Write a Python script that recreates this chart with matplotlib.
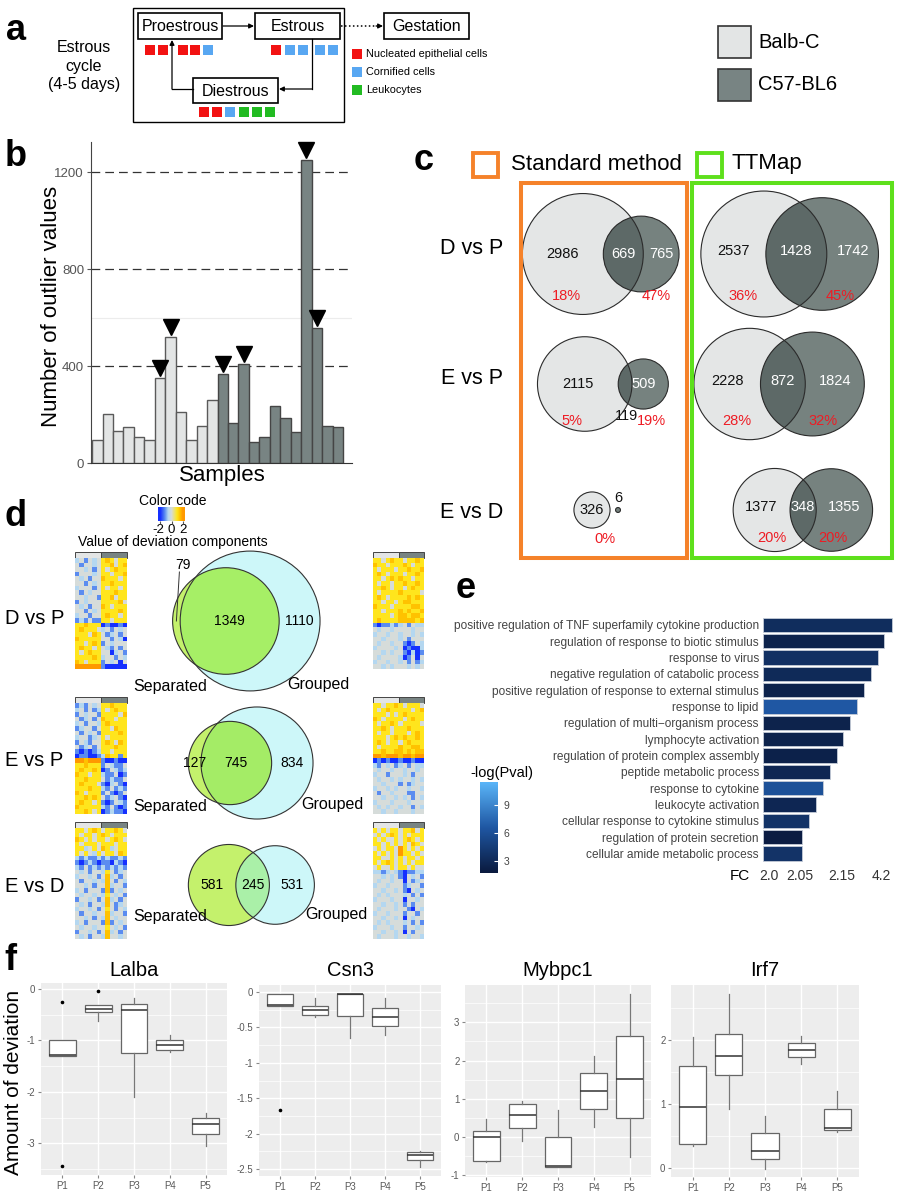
import numpy as np
import matplotlib
matplotlib.use('Agg')
import matplotlib.pyplot as plt
from matplotlib.patches import Rectangle, Circle
from matplotlib.colors import LinearSegmentedColormap, Normalize
from matplotlib.ticker import MultipleLocator

plt.rcParams['font.family'] = ['Liberation Sans', 'DejaVu Sans']
plt.rcParams['axes.unicode_minus'] = False

# ======================= DATA =======================
# panel a
STAGES = ['Proestrous', 'Estrous', 'Diestrous', 'Gestation']
PRO_CELLS = ['N', 'N', 'N', 'N', 'C']
EST_CELLS = ['N', 'C', 'C', 'C', 'C']
DI_CELLS = ['N', 'N', 'C', 'L', 'L', 'L']
CELL_KEYS = ['N', 'C', 'L']
CELL_NAMES = ['Nucleated epithelial cells', 'Cornified cells', 'Leukocytes']
STRAINS = ['Balb-C', 'C57-BL6']

# panel b
B_VALUES = [93, 203, 132, 148, 107, 93, 352, 520, 210, 93, 154, 261,
            368, 166, 410, 87, 107, 234, 186, 129, 1251, 558, 151, 150]
B_STRAIN = [0, 0, 0, 0, 0, 0, 0, 0, 0, 0, 0, 0,
            1, 1, 1, 1, 1, 1, 1, 1, 1, 1, 1, 1]
B_MARKED = [6, 7, 12, 14, 20, 21]
B_YTICKS = [0, 400, 800, 1200]

# panel c
C_ROWS = ['D vs P', 'E vs P', 'E vs D']
STD_LEFT = [2986, 2115, 326]
STD_INTER = [669, 119, 0]
STD_RIGHT = [765, 509, 6]
STD_PCT = [['18%', '47%'], ['5%', '19%'], ['0%']]
TT_LEFT = [2537, 2228, 1377]
TT_INTER = [1428, 872, 348]
TT_RIGHT = [1742, 1824, 1355]
TT_PCT = [['36%', '45%'], ['28%', '32%'], ['20%', '20%']]

# panel d
D_ROWS = ['D vs P', 'E vs P', 'E vs D']
D_SEP_ONLY = [79, 127, 581]
D_INTER = [1349, 745, 245]
D_GRP_ONLY = [1110, 834, 531]

HM_DP_SEP = ["c.b.c.yYy.yy", ".b..c.yyY.yY", "..c.b.y.yYyy", "b...c.yy.yyY",
             ".c.b..Yyyy.y", "..b.c.yyYyyy", "c...b.y.yy.y", ".b.c..yyyYyy",
             "..c..byyY.yy", "b.c...yyyyY.", ".c.b..Yy.yyy", "..b.c.yyyyYy",
             "c..b..yYyy.y", "bcb.bbyy.yyy", "yyYyyyBbBBbB", "yYyyy.c.b.c.",
             "yyy.Yy.bc.b.", "Yyyyyy..b.cB", "yy.yYyb.c...", "yYyy.y.cb.b.",
             "y.yYyy..Bc.b", "yyyyYyc..b.c", "Yy.yyyb.c.B.", "OOOOOObBBBBB"]
HM_DP_GRP = ["yy.yYyy.yyYy", "Yyy.yyyYy.yy", "y.yyy.yyYyyY", "yYy.yyy.yyYy",
             "yy.yYyYyy.yy", "y.yy.yyYyyYy", "yyYy.yy.yYyy", "y.yyyyYyyyy.",
             "yYy.yyyyYyYy", "yy.yy.yYYyyy", "Yyyy.yyyyYYy", "yy.yyyYyYyyY",
             "yyyy.yYYyYYy", "yYyyyyYYYYyY", "bBbbcbc.b.cc", ".c..c....c..",
             "c..c..c..c.c", "..c...c.b...", ".c..c..bBb.c", "c....c.BbBBc",
             "..c.c..bBcBb", ".c....cBb.B.", "c..c..c.b.bc", "..c.c...c.c."]
HM_EP_SEP = ["bcb.c.yyYyyy", "c.b.bcy.yYyy", "b.c..byyyy.Y", ".bc.b.Yyy.yy",
             "c.b..cyYyyyy", "bc..b.yy.Yyy", ".b.c.byyyyYy", "c..bc.y.yyyy",
             "b.cb..yYy.Yy", ".bc.b.yyyYyy", "bBbBbcyy.yyy", "BbbBBbcYyyby",
             "OOYOOObBBbBB", "yyYyyyb.cbb.", "yYyyYyBb.cbc", "Yyy.yycbb.Bb",
             "yyYyyy.bcbb.", "yYyyy.bBc.bB", "yyyYyycb.bcb", "Yy.yyyb.bBb.",
             "yyYyYy.bc.bB", "yYyy.ybBb.cb", "Yyyyyycb.bBb", "yyYy.yBbcbbB"]
HM_EP_GRP = ["yy.yyYy.yyy.", "y.yYyyyyy.yY", "yyy.y.yYyyyy", "Yy.yyyy.yYyy",
             "y.yyYy.yyyy.", "yyYy.yyyYyyy", "y.yy.yyy.yYy", "yyy.yYyYyyYy",
             "yYy.yy.yYyyy", "y.yyyyYyyYYy", "yyYyyYYyYyYY", "OOYOOOYOOYOO",
             "BbBbBBbBBbBB", "cb.c.bc.b.cc", ".c..c..c..c.", "c..b...c.b..",
             ".c..c.c..c.c", "..c...b.bc..", "c..c.c..c..c", ".b..c...bb..",
             "..c..c.c.b.c", "c...c...c...", ".c.c..c..b.c", "..c..c...c.."]
HM_ED_SEP = ["yy.yYy.yyYy.", "y.yy.yYy.yyy", "Yy.y.yy.yYy.", "y.yyy.yyy.yy",
             "yyc.y.Yyc.yy", "y.y.cy.yy.Yy", "cbcbbcbcbbcb", "bBbcbBbbBcbB",
             "cb.bcbcbcbcb", ".c.b..cy.bc.", "c..c.b.Yc.b.", ".b..c.cY.b.c",
             "..c.b..Yc..b", "c.b...bYb.c.", ".c..c.cy.c.b", "b..c.b.Yc.b.",
             ".c.b..cY.bc.", "c..c.b.y.b.c", ".b..c..Yc..b", "..c.b.cY.c..",
             "c.b...bYb.c.", ".c..c..y.c.b", "b..c.b.Yc.b.", ".c.b..cY..c."]
HM_ED_GRP = ["y.y.yy.yyY.y", ".y.yYy.y.yyy", "y.y..y.yYy.y", "yy.y.y.y.Yy.",
             ".y.yy.Oy.y.y", "y.y.y.Oyy.y.", "yy..y.y.yy.y", "y.yYy.y.y.yy",
             ".y..y.yy.y..", "ccbc.cbBbbcc", "..c.c.bB.c.b", ".c..c..B.bc.",
             "c..c...bc..b", "..c..c.bB.c.", ".c.c...c.b.b", "c...c..B..c.",
             "..c..c.b.b..", ".c...c..bB.c", "c..c...b..b.", "..c..c.B.c..",
             ".c.c...c.b.b", "c...c..b..c.", "..c..c.B.b..", ".c...c..c..c"]
HM_CODE_VALUE = {'B': -2.0, 'b': -1.2, 'c': -0.6, '.': 0.0, 'y': 1.0, 'Y': 1.5, 'O': 2.0}
CC_TICKS = [-2, 0, 2]

# panel e
E_TERMS = ['positive regulation of TNF superfamily cytokine production',
           'regulation of response to biotic stimulus',
           'response to virus',
           'negative regulation of catabolic process',
           'positive regulation of response to external stimulus',
           'response to lipid',
           'regulation of multi\u2212organism process',
           'lymphocyte activation',
           'regulation of protein complex assembly',
           'peptide metabolic process',
           'response to cytokine',
           'leukocyte activation',
           'cellular response to cytokine stimulus',
           'regulation of protein secretion',
           'cellular amide metabolic process']
E_FC_RANK = [18.4, 17.3, 16.4, 15.4, 14.4, 13.4, 12.4, 11.4, 10.6, 9.6, 8.6, 7.6, 6.6, 5.6, 5.6]
E_NLOGP = [3.2, 2.4, 3.5, 3.0, 2.4, 6.6, 2.4, 2.4, 2.3, 2.7, 6.1, 2.7, 3.7, 1.9, 3.7]
E_FC_TICK_POS = [0.86, 5.3, 11.3, 16.9]
E_FC_TICK_LAB = ['2.0', '2.05', '2.15', '4.2']
E_CB_TICKS = [3, 6, 9]
E_CB_RANGE = (1.7, 11.5)

# panel f
F_GENES = ['Lalba', 'Csn3', 'Mybpc1', 'Irf7']
F_GROUPS = ['P1', 'P2', 'P3', 'P4', 'P5']
F_MED = [[-1.29, -0.38, -0.40, -1.08, -2.62],
         [-0.18, -0.26, -0.03, -0.35, -2.31],
         [-0.01, 0.57, -0.75, 1.20, 1.51],
         [0.95, 1.75, 0.27, 1.84, 0.63]]
F_Q1 = [[-1.31, -0.45, -1.25, -1.18, -2.83],
        [-0.19, -0.33, -0.34, -0.48, -2.38],
        [-0.62, 0.23, -0.79, 0.72, 0.50],
        [0.37, 1.45, 0.14, 1.73, 0.59]]
F_Q3 = [[-1.00, -0.30, -0.29, -0.99, -2.51],
        [-0.03, -0.19, -0.03, -0.22, -2.26],
        [0.15, 0.86, 0.00, 1.67, 2.64],
        [1.60, 2.09, 0.54, 1.95, 0.92]]
F_WLO = [[-1.31, -0.62, -2.10, -1.23, -3.05],
         [-0.19, -0.35, -0.65, -0.61, -2.47],
         [-0.65, -0.10, -0.79, 0.26, -0.52],
         [0.35, 0.93, -0.01, 1.62, 0.56]]
F_WHI = [[-1.00, -0.30, -0.17, -0.90, -2.42],
         [-0.03, -0.08, -0.03, -0.08, -2.24],
         [0.48, 0.94, 0.71, 2.12, 3.74],
         [2.05, 2.72, 0.81, 2.06, 1.20]]
F_OUT = [[[-0.25, -3.45], [-0.04], [], [], []],
         [[-1.67], [], [], [], []],
         [[], [], [], [], []],
         [[], [], [], [], []]]
F_YTICKS = [[0, -1, -2, -3], [0, -0.5, -1, -1.5, -2, -2.5], [-1, 0, 1, 2, 3], [0, 1, 2]]
F_YTICKLABELS = [['0', '-1', '-2', '-3'], ['0', '-0.5', '-1', '-1.5', '-2', '-2.5'],
                 ['-1', '0', '1', '2', '3'], ['0', '1', '2']]
F_YLIM = [(-3.62, 0.12), (-2.60, 0.10), (-1.05, 3.98), (-0.14, 2.86)]

# ======================= STYLE / LAYOUT =======================
CELL_COLORS = {'N': '#f21212', 'C': '#58a7f2', 'L': '#22bb22'}
STRAIN_FILL = ['#e3e5e5', '#788483']
STRAIN_EDGE = ['#5a5a5a', '#454545']
VC_LIGHT, VC_DARK, VC_OVER = '#e4e6e6', '#76827f', '#5d6967'
RED = '#ee1c24'
ORANGE, GREEN = '#f5822a', '#5ee01c'
HM_CMAP = LinearSegmentedColormap.from_list('hm', [
    (0.0, '#1530ff'), (0.2, '#5b8cf0'), (0.35, '#b5d8f0'), (0.5, '#d6dcdc'),
    (0.75, '#ffe61e'), (0.875, '#ffc400'), (1.0, '#ff9900')])
E_CMAP = LinearSegmentedColormap.from_list('e', ['#0a1a3e', '#1f57a3', '#5ab5f8'])

W, H = 899, 1199
fig = plt.figure(figsize=(W / 100, H / 100), dpi=100)
fig.patch.set_facecolor('white')


def px_axes(x0, y0, x1, y1):
    return fig.add_axes([x0 / W, 1 - y1 / H, (x1 - x0) / W, (y1 - y0) / H])


ov = px_axes(0, 0, W, H)
ov.set_xlim(0, W)
ov.set_ylim(H, 0)
ov.axis('off')


def T(x, y, s, size, **kw):
    kw.setdefault('ha', 'center')
    kw.setdefault('va', 'center')
    return ov.text(x, y, s, fontsize=size, **kw)


def panel_letter(x, y, s):
    T(x, y, s, 26, fontweight='bold')


# ======================= PANEL a =======================
panel_letter(16, 31, 'a')
T(84, 66, 'Estrous\ncycle\n(4-5 days)', 11.5, linespacing=1.25)
ov.add_patch(Rectangle((133, 8), 211, 114, fc='none', ec='k', lw=1.0))
STAGE_BOX = {'Proestrous': (138, 13, 84, 26), 'Estrous': (255, 13, 85, 26),
             'Gestation': (384, 13, 85, 26), 'Diestrous': (193, 78, 85, 25)}
for name in STAGES:
    x, y, w, h = STAGE_BOX[name]
    ov.add_patch(Rectangle((x, y), w, h, fc='white', ec='k', lw=1.2))
    T(x + w / 2, y + h / 2 + 0.5, name, 11.5)

ap = dict(arrowstyle='-|>', color='k', lw=0.9, mutation_scale=7, shrinkA=0, shrinkB=0)
ov.annotate('', xy=(254, 26), xytext=(223, 26), arrowprops=ap)
ov.plot([341, 377], [26, 26], color='k', lw=1.1, ls=(0, (1, 1.6)))
ov.annotate('', xy=(383, 26), xytext=(376, 26), arrowprops=ap)
ov.plot([312, 312], [39, 89], color='k', lw=0.9)
ov.annotate('', xy=(279, 89), xytext=(312, 89), arrowprops=ap)
ov.plot([193, 172], [89, 89], color='k', lw=0.9)
ov.annotate('', xy=(172, 40), xytext=(172, 89), arrowprops=ap)


def cell_row(cells, x0, y0, step, gap_after, gap):
    for i, c in enumerate(cells):
        x = x0 + i * step + (gap if i > gap_after else 0)
        ov.add_patch(Rectangle((x, y0), 10, 10, fc=CELL_COLORS[c], ec='none'))


cell_row(PRO_CELLS, 145, 45, 12.8, 1, 7)
cell_row(EST_CELLS, 271, 45, 13.5, 2, 3)
cell_row(DI_CELLS, 199, 107, 13.2, 99, 0)
for i, (c, nm) in enumerate(zip(CELL_KEYS, CELL_NAMES)):
    ov.add_patch(Rectangle((352, 49 + 18 * i), 10, 10, fc=CELL_COLORS[c], ec='none'))
    T(366, 54 + 18 * i, nm, 7.8, ha='left')

for i, s in enumerate(STRAINS):
    y = 26 + 43 * i
    ov.add_patch(Rectangle((718, y), 33, 32, fc=STRAIN_FILL[i], ec='#333333', lw=1.2))
    T(758, y + 16, s, 14.5, ha='left')

# ======================= PANEL b =======================
panel_letter(16, 157, 'b')
axb = px_axes(91, 142, 352, 463)
xb = np.arange(len(B_VALUES))
axb.bar(xb, B_VALUES, width=1.0, color=[STRAIN_FILL[s] for s in B_STRAIN],
        edgecolor=[STRAIN_EDGE[s] for s in B_STRAIN], linewidth=1.0, zorder=3)
for v in B_YTICKS[1:]:
    axb.axhline(v, color='#333333', lw=0.9, ls=(0, (7, 4)), zorder=1)
axb.axhline(600, color='#ececec', lw=0.8, zorder=0)
for i in B_MARKED:
    axb.plot(xb[i], B_VALUES[i] + 40, marker='v', ms=11, color='k', zorder=5, clip_on=False)
axb.set_xlim(-0.6, 24.35)
axb.set_ylim(0, 1324)
axb.set_yticks(B_YTICKS)
axb.set_xticks([])
axb.tick_params(axis='y', labelsize=9.5, labelcolor='#555555', color='#555555', length=3, pad=2)
for sp in ['top', 'right']:
    axb.spines[sp].set_visible(False)
axb.spines['left'].set_color('#444444')
axb.spines['bottom'].set_color('#333333')
T(52, 306, 'Number of outlier values', 16, rotation=90)
T(222, 475, 'Samples', 16)


# ======================= VENN helpers =======================
def lens_area(r1, r2, d):
    if d >= r1 + r2:
        return 0.0
    if d <= abs(r1 - r2):
        return np.pi * min(r1, r2) ** 2
    a1 = r1 ** 2 * np.arccos((d * d + r1 * r1 - r2 * r2) / (2 * d * r1))
    a2 = r2 ** 2 * np.arccos((d * d + r2 * r2 - r1 * r1) / (2 * d * r2))
    a3 = 0.5 * np.sqrt((-d + r1 + r2) * (d + r1 - r2) * (d - r1 + r2) * (d + r1 + r2))
    return a1 + a2 - a3


def solve_d(r1, r2, target):
    lo, hi = abs(r1 - r2), r1 + r2
    for _ in range(60):
        mid = (lo + hi) / 2
        if lens_area(r1, r2, mid) > target:
            lo = mid
        else:
            hi = mid
    return (lo + hi) / 2


def venn(cx, cy, nl, ni, nr, k, cl, cr, co, ec='#2b2b2b', lw=0.8, gap=5.5):
    r1 = k * np.sqrt(nl + ni)
    r2 = k * np.sqrt(nr + ni)
    d = solve_d(r1, r2, np.pi * k * k * ni) if ni > 0 else r1 + r2 + gap
    x1, x2 = cx - d / 2, cx + d / 2
    c1 = Circle((x1, cy), r1, fc=cl, ec='none', zorder=2)
    c2 = Circle((x2, cy), r2, fc=cr, ec='none', zorder=2)
    ov.add_patch(c1)
    ov.add_patch(c2)
    c3 = Circle((x2, cy), r2, fc=co, ec='none', zorder=3)
    ov.add_patch(c3)
    c3.set_clip_path(c1)
    ov.add_patch(Circle((x1, cy), r1, fc='none', ec=ec, lw=lw, zorder=4))
    ov.add_patch(Circle((x2, cy), r2, fc='none', ec=ec, lw=lw, zorder=4))
    xl = ((x1 - r1) + (x2 - r2)) / 2
    xo = ((x2 - r2) + (x1 + r1)) / 2
    xr = ((x1 + r1) + (x2 + r2)) / 2
    return dict(x1=x1, x2=x2, r1=r1, r2=r2, xl=xl, xo=xo, xr=xr)


# ======================= PANEL c =======================
panel_letter(424, 160, 'c')
ov.add_patch(Rectangle((473, 153), 25, 24, fc='none', ec=ORANGE, lw=2.8))
T(511, 164, 'Standard method', 16, ha='left')
ov.add_patch(Rectangle((697, 153), 25, 24, fc='none', ec=GREEN, lw=2.8))
T(732, 164, 'TTMap', 16, ha='left')
ov.add_patch(Rectangle((520.5, 183), 166, 375, fc='none', ec=ORANGE, lw=2.9, zorder=6))
ov.add_patch(Rectangle((691.5, 183), 200, 375, fc='none', ec=GREEN, lw=2.9, zorder=6))

C_ROW_Y = [254, 384, 510]
STD_CX = [612, 614, 605]
TT_CX = [793, 781, 803]
PCT_DY = [42, 37, 28]
K_C = 1.0
for r, label in enumerate(C_ROWS):
    cy = C_ROW_Y[r]
    T(472, cy - 5 if r < 2 else cy + 2, label, 15.5)
    # standard method
    g = venn(STD_CX[r], cy, STD_LEFT[r], STD_INTER[r], STD_RIGHT[r], K_C, VC_LIGHT, VC_DARK, VC_OVER)
    if STD_INTER[r] == 0:
        T(g['x1'], cy, str(STD_LEFT[r]), 10.5, color='#111111', zorder=7)
        T(g['x2'], cy - 12, str(STD_RIGHT[r]), 10.5, color='#111111', zorder=7)
        T((g['x1'] + g['x2']) / 2, cy + 29, STD_PCT[r][0], 10.5, color=RED, zorder=7)
    else:
        small = STD_INTER[r] / min(STD_LEFT[r], STD_RIGHT[r] + STD_INTER[r]) < 0.25
        T(g['xl'], cy, str(STD_LEFT[r]), 10.5, color='#111111', zorder=7)
        if small:
            T(g['xo'] + 1, cy + 32, str(STD_INTER[r]), 10.5, color='#111111', zorder=7)
            T(g['x2'], cy, str(STD_RIGHT[r]), 10.5, color='white', zorder=7)
            xr_pct = g['x2'] + 8
            xl_pct = g['xl'] - 6
        else:
            T(g['xo'], cy, str(STD_INTER[r]), 10.5, color='white', zorder=7)
            T(g['xr'], cy, str(STD_RIGHT[r]), 10.5, color='white', zorder=7)
            xr_pct = g['xr'] - 5
            xl_pct = g['xl'] + 4
        T(xl_pct, cy + PCT_DY[r], STD_PCT[r][0], 10.5, color=RED, zorder=7)
        T(xr_pct, cy + PCT_DY[r], STD_PCT[r][1], 10.5, color=RED, zorder=7)
    # TTMap
    g = venn(TT_CX[r], cy, TT_LEFT[r], TT_INTER[r], TT_RIGHT[r], K_C, VC_LIGHT, VC_DARK, VC_OVER)
    T(g['xl'], cy - 3, str(TT_LEFT[r]), 10.5, color='#111111', zorder=7)
    T(g['xo'], cy - 3, str(TT_INTER[r]), 10.5, color='white', zorder=7)
    T(g['xr'], cy - 3, str(TT_RIGHT[r]), 10.5, color='white', zorder=7)
    T(g['xl'] + 10, cy + PCT_DY[r], TT_PCT[r][0], 10.5, color=RED, zorder=7)
    T(g['xr'] - 12, cy + PCT_DY[r], TT_PCT[r][1], 10.5, color=RED, zorder=7)

# ======================= PANEL d =======================
panel_letter(16, 516, 'd')
T(173, 501, 'Color code', 10)
CC_X0, CC_X1, CC_LIM = 158, 185, 2.4
axcc = px_axes(CC_X0, 507, CC_X1, 521)
axcc.imshow(np.linspace(-CC_LIM, CC_LIM, 120)[None, :], extent=(-CC_LIM, CC_LIM, 0, 1),
            aspect='auto', cmap=HM_CMAP, vmin=-2, vmax=2)
axcc.set_xlim(-CC_LIM, CC_LIM)
axcc.set_yticks([])
axcc.set_xticks(CC_TICKS)
axcc.set_xticklabels([])
axcc.tick_params(axis='x', length=2, color='#555555')
for sp in axcc.spines.values():
    sp.set_visible(False)
for t in CC_TICKS:
    xt = CC_X0 + (t + CC_LIM) / (2 * CC_LIM) * (CC_X1 - CC_X0)
    T(xt - (2 if t < 0 else 0), 530, str(t), 9.5)
T(173, 542, 'Value of deviation components', 10)

HEAT_LEFT = [HM_DP_SEP, HM_EP_SEP, HM_ED_SEP]
HEAT_RIGHT = [HM_DP_GRP, HM_EP_GRP, HM_ED_GRP]
HEAT_Y = [552, 697, 822]
D_CY = [621, 763, 885]
D_CX = [238, 243.5, 252]
D_LAB_DY = [66, 44, 32]
D_GRP_LAB_X = [318, 332, 336]
D_OVER_COLORS = ['#a6ef66', '#a4ec66', '#aaf0a8']
K_D = 1.41


def heat(rows, x0, x1, yh):
    mat = np.array([[HM_CODE_VALUE[ch] for ch in rw] for rw in rows])
    ax = px_axes(x0, yh + 6, x1, yh + 117)
    ax.imshow(mat, cmap=HM_CMAP, vmin=-2, vmax=2, aspect='auto', interpolation='nearest')
    ax.axis('off')
    xm = (x0 + x1) / 2
    ov.add_patch(Rectangle((x0, yh), xm - x0, 6, fc=STRAIN_FILL[0], ec='#444444', lw=0.7))
    ov.add_patch(Rectangle((xm, yh), x1 - xm, 6, fc=STRAIN_FILL[1], ec='#444444', lw=0.7))


for r, label in enumerate(D_ROWS):
    heat(HEAT_LEFT[r], 75, 127, HEAT_Y[r])
    heat(HEAT_RIGHT[r], 373, 424, HEAT_Y[r])
    cy = D_CY[r]
    T(5, cy - 3 if r < 2 else cy + 2, label, 14.5, ha='left')
    g = venn(D_CX[r], cy, D_SEP_ONLY[r], D_INTER[r], D_GRP_ONLY[r], K_D,
             '#c4f16c', '#cdf7f9', D_OVER_COLORS[r], ec='#333333', lw=0.8)
    if D_SEP_ONLY[r] / (D_SEP_ONLY[r] + D_INTER[r]) < 0.1:
        xs = g['xl']
        ov.plot([xs, xs + 3], [cy, cy - 49], color='#333333', lw=0.7, zorder=6)
        T(xs + 7, cy - 56, str(D_SEP_ONLY[r]), 10, zorder=7)
    else:
        T(g['xl'], cy, str(D_SEP_ONLY[r]), 10, zorder=7)
    T(g['xo'], cy, str(D_INTER[r]), 10, zorder=7)
    T(g['xr'], cy, str(D_GRP_ONLY[r]), 10, zorder=7)
    T(170, cy + D_LAB_DY[r], 'Separated', 11.5, zorder=7)
    T(D_GRP_LAB_X[r], cy + D_LAB_DY[r] - 2, 'Grouped', 11.5, zorder=7)

# ======================= PANEL e =======================
panel_letter(466, 589, 'e')
axe = px_axes(763, 616.8, 895, 861.7)
ne = Normalize(*E_CB_RANGE)
ye = np.arange(len(E_TERMS))
axe.barh(ye, E_FC_RANK, height=0.88, color=E_CMAP(ne(np.array(E_NLOGP))),
         edgecolor='#c5ccd8', linewidth=0.6)
axe.set_xlim(0, 18.86)
axe.set_ylim(len(E_TERMS) - 0.5, -0.5)
axe.set_yticks(ye)
axe.set_yticklabels(E_TERMS, fontsize=8.6, color='#444444')
axe.set_xticks(E_FC_TICK_POS)
axe.set_xticklabels(E_FC_TICK_LAB, fontsize=10, color='#333333')
axe.tick_params(axis='both', length=0)
axe.tick_params(axis='y', pad=3)
axe.tick_params(axis='x', pad=5)
for sp in axe.spines.values():
    sp.set_visible(False)
T(740, 876, 'FC', 11)
T(502, 773, '-log(Pval)', 10.5)
axcb = px_axes(480, 782, 498, 873)
axcb.imshow(np.linspace(E_CB_RANGE[0], E_CB_RANGE[1], 200)[:, None], origin='lower',
            extent=(0, 1, E_CB_RANGE[0], E_CB_RANGE[1]), aspect='auto', cmap=E_CMAP, norm=ne)
axcb.set_xticks([])
axcb.set_yticks(E_CB_TICKS)
axcb.yaxis.tick_right()
axcb.tick_params(axis='y', direction='in', color='white', length=3, labelsize=7.5,
                 labelcolor='#444444', pad=4)
for sp in axcb.spines.values():
    sp.set_visible(False)

# ======================= PANEL f =======================
panel_letter(10, 960, 'f')
T(14, 1082, 'Amount of deviation', 15, rotation=90)
F_AX = [(41, 983, 227, 1175), (259, 985, 441, 1176), (465, 985, 651, 1177), (671, 985, 859, 1177)]
F_MINOR = [0.5, 0.25, 0.5, 0.5]
for gi, gene in enumerate(F_GENES):
    x0, y0, x1, y1 = F_AX[gi]
    ax = px_axes(x0, y0, x1, y1)
    ax.set_facecolor('#ededed')
    stats = []
    for j, grp in enumerate(F_GROUPS):
        stats.append(dict(med=F_MED[gi][j], q1=F_Q1[gi][j], q3=F_Q3[gi][j],
                          whislo=F_WLO[gi][j], whishi=F_WHI[gi][j],
                          fliers=F_OUT[gi][j], label=grp))
    ax.bxp(stats, positions=np.arange(1, 6), widths=0.75, patch_artist=True, showcaps=False,
           boxprops=dict(facecolor='white', edgecolor='#666666', linewidth=0.9),
           medianprops=dict(color='#333333', linewidth=1.1),
           whiskerprops=dict(color='#777777', linewidth=0.9),
           flierprops=dict(marker='o', markersize=1.6, markerfacecolor='k',
                           markeredgecolor='k'), zorder=3)
    ax.set_xlim(0.4, 5.6)
    ax.set_ylim(*F_YLIM[gi])
    ax.set_yticks(F_YTICKS[gi])
    ax.set_yticklabels(F_YTICKLABELS[gi])
    ax.yaxis.set_minor_locator(MultipleLocator(F_MINOR[gi]))
    ax.set_axisbelow(True)
    ax.grid(True, which='major', color='white', lw=1.0)
    ax.grid(True, which='minor', axis='y', color='white', lw=0.5)
    ax.tick_params(axis='both', which='major', labelsize=7, labelcolor='#5a5a5a',
                   color='#888888', length=2.5, pad=1.5)
    ax.tick_params(axis='y', which='minor', length=0)
    for sp in ax.spines.values():
        sp.set_visible(False)
    T((x0 + x1) / 2, 970, gene, 14.5)

fig.savefig('out.png', dpi=100, facecolor='white')
